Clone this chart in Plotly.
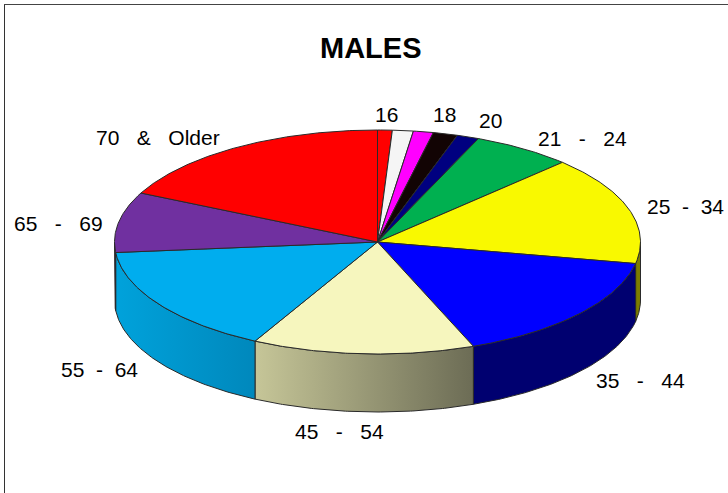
import numpy as np
import plotly.graph_objects as go

# ---- data -------------------------------------------------------------
categories = ["16", "17", "18", "19", "20", "21 - 24", "25 - 34", "35 - 44",
              "45 - 54", "55 - 64", "65 - 69", "70 & Older"]
shares = [0.9, 1.28, 1.23, 1.5, 1.36, 6.14, 15.67, 15.98, 13.65, 15.79, 8.70, 17.80]

# ---- style ------------------------------------------------------------
top_colors = ["#FF0000", "#F5F5F5", "#FF00FF", "#120404", "#000080", "#00B050",
              "#F9F900", "#0000FF", "#F6F6BE", "#00ADEE", "#7030A0", "#FF0000"]
side_colors = [("#800000", "#800000"), ("#7a7a7a", "#7a7a7a"), ("#800080", "#800080"),
               ("#080202", "#080202"), ("#000040", "#000040"), ("#005828", "#005828"),
               ("#7C7C00", "#7C7C00"), ("#000070", "#000070"),
               ("#C6C698", "#6C6C55"), ("#00A2DB", "#0088BC"),
               ("#38184F", "#38184F"), ("#800000", "#800000")]
EDGE = "#2a2a2a"
CX, CY, RX, RY, DEPTH = 377.5, 242.0, 263.0, 112.0, 58.0

label_text = {
    "16": ("16", 386, 114), "18": ("18", 444, 114), "20": ("20", 490, 120),
    "21 - 24": ("21\u00a0\u00a0 -\u00a0\u00a0 24", 582, 138),
    "25 - 34": ("25\u00a0 -\u00a0 34", 685, 206),
    "35 - 44": ("35\u00a0\u00a0 -\u00a0\u00a0 44", 640, 380),
    "45 - 54": ("45\u00a0\u00a0 -\u00a0\u00a0 54", 339, 431),
    "55 - 64": ("55\u00a0 -\u00a0 64", 99, 369),
    "65 - 69": ("65\u00a0\u00a0 -\u00a0\u00a0 69", 58, 223),
    "70 & Older": ("70\u00a0\u00a0 &\u00a0\u00a0 Older", 158, 137),
}

# ---- geometry from the values ------------------------------------------
edges = np.concatenate([[0.0], np.cumsum(shares)]) / sum(shares) * 360.0


def arc(a0, a1, dy=0.0):
    t = np.radians(np.linspace(a0, a1, max(int(abs(a1 - a0) * 2), 2)))
    return CX + RX * np.sin(t), CY - RY * np.cos(t) + dy


fig = go.Figure()

# visible rim: angles 90..270 run along the front of the ellipse
for i, name in enumerate(categories):
    a0, a1 = max(edges[i], 90.0), min(edges[i + 1], 270.0)
    if a1 <= a0:
        continue
    xt, yt = arc(a0, a1)
    xb, yb = arc(a1, a0, DEPTH)
    c_left, c_right = side_colors[i]
    fig.add_trace(go.Scatter(
        x=np.concatenate([xt, xb, xt[:1]]), y=np.concatenate([yt, yb, yt[:1]]),
        mode="lines", line=dict(color=EDGE, width=1), fill="toself",
        fillgradient=dict(type="horizontal", colorscale=[[0, c_left], [1, c_right]]),
        hoverinfo="skip", showlegend=False))

# top face
for i, name in enumerate(categories):
    xa, ya = arc(edges[i], edges[i + 1])
    fig.add_trace(go.Scatter(
        x=np.concatenate([[CX], xa, [CX]]), y=np.concatenate([[CY], ya, [CY]]),
        mode="lines", line=dict(color=EDGE, width=1), fill="toself",
        fillcolor=top_colors[i], hoverinfo="skip", showlegend=False))

# labels
for name in categories:
    if name in label_text:
        text, lx, ly = label_text[name]
        fig.add_annotation(x=lx, y=ly, text=text, showarrow=False,
                           font=dict(family="Liberation Sans", size=21, color="#000000"))
fig.add_annotation(x=371, y=48, text="<b>MALES</b>", showarrow=False,
                   font=dict(family="Liberation Sans", size=29, color="#000000"))

# outer frame (left and top only are visible)
fig.add_shape(type="line", x0=4.5, x1=4.5, y0=4, y1=493, line=dict(color="#333333", width=1))
fig.add_shape(type="line", x0=4, x1=728, y0=4.5, y1=4.5, line=dict(color="#444444", width=1))

fig.update_layout(
    width=728, height=493, margin=dict(l=0, r=0, t=0, b=0),
    paper_bgcolor="white", plot_bgcolor="white", showlegend=False,
    xaxis=dict(range=[0, 728], visible=False, fixedrange=True),
    yaxis=dict(range=[493, 0], visible=False, fixedrange=True),
)
fig.write_html("out.html", config={"displayModeBar": False},
               post_script="document.body.style.margin='0';document.body.style.overflow='hidden';")
